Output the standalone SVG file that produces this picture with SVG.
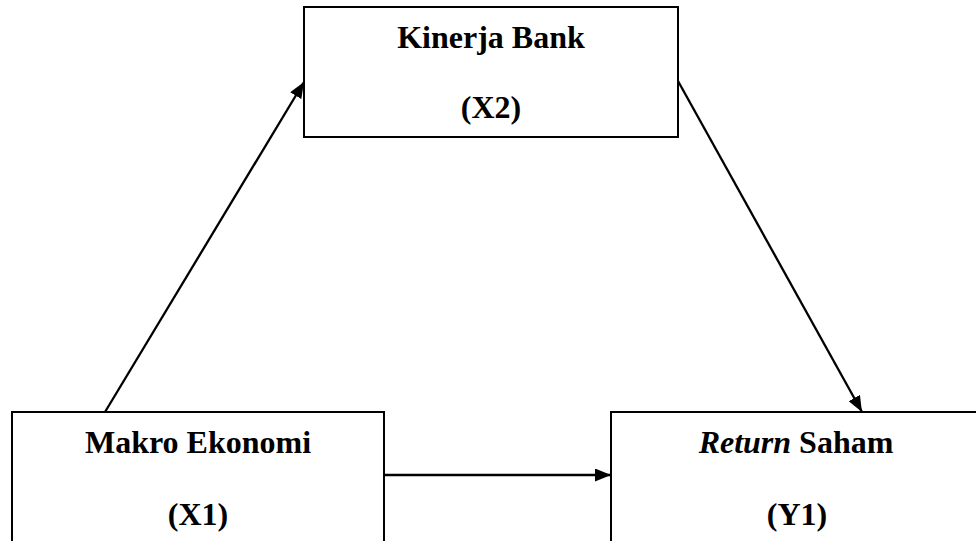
<svg xmlns="http://www.w3.org/2000/svg" width="976" height="541" viewBox="0 0 976 541">
<style>
.box{fill:#fff;stroke:#000;stroke-width:2}
.t{font-family:"Liberation Serif","Times New Roman",serif;font-weight:bold;font-size:32px;text-anchor:middle;fill:#000}
.c{stroke:#000;stroke-width:2.3;fill:none;marker-end:url(#ah)}
</style>
<defs>
<marker id="ah" markerUnits="userSpaceOnUse" markerWidth="17" markerHeight="13" refX="16" refY="6.5" orient="auto">
<path d="M0,0 L16,6.5 L0,13 Z" fill="#000"/>
</marker>
</defs>
<rect width="976" height="541" fill="#fff"/>
<g id="connectors">
<line class="c" x1="105" y1="412" x2="304" y2="82"/>
<line class="c" x1="678" y1="81" x2="862" y2="412"/>
<line class="c" x1="384" y1="475" x2="611" y2="475"/>
</g>
<g id="x2">
<rect class="box" x="304" y="7" width="374" height="130"/>
<text class="t" x="491" y="48">Kinerja Bank</text>
<text class="t" x="491" y="118">(X2)</text>
</g>
<g id="x1">
<rect class="box" x="12" y="412" width="372" height="140"/>
<text class="t" x="198" y="453">Makro Ekonomi</text>
<text class="t" x="198" y="525">(X1)</text>
</g>
<g id="y1">
<rect class="box" x="611" y="412" width="372" height="140"/>
<text class="t" x="796" y="453"><tspan font-style="italic">Return</tspan> Saham</text>
<text class="t" x="797" y="525">(Y1)</text>
</g>
</svg>
